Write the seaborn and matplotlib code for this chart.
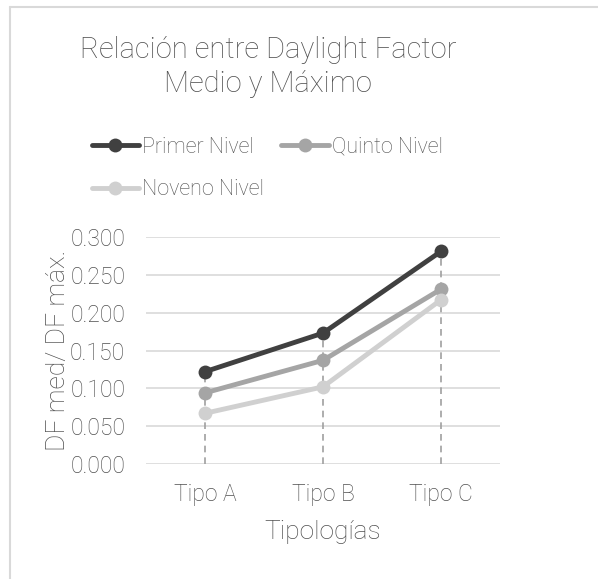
import matplotlib
matplotlib.use("Agg")
import matplotlib.pyplot as plt
from matplotlib.lines import Line2D
import seaborn as sns
import pandas as pd

categories = ["Tipo A", "Tipo B", "Tipo C"]
series_names = ["Primer Nivel", "Quinto Nivel", "Noveno Nivel"]
primer = [0.122, 0.173, 0.281]
quinto = [0.094, 0.137, 0.231]
noveno = [0.067, 0.102, 0.217]
yticks = [0.0, 0.05, 0.10, 0.15, 0.20, 0.25, 0.30]
colors = ["#404040", "#A5A5A5", "#D0D0D0"]

rows = []
for name, vals in zip(series_names, [primer, quinto, noveno]):
    for c, v in zip(categories, vals):
        rows.append({"Tipología": c, "Valor": v, "Serie": name})
df = pd.DataFrame(rows)

sns.set_style("white")
plt.rcParams["font.family"] = ["Roboto", "DejaVu Sans"]
txt = "#505050"

W, H = 598, 579
fig = plt.figure(figsize=(W / 100, H / 100), dpi=100)
ax = fig.add_axes([146 / W, 1 - 464 / H, (500 - 146) / W, (464 - 237) / H])

# drop lines
maxv = df.groupby("Tipología", sort=False)["Valor"].max()
ax.vlines(range(len(categories)), 0, [maxv[c] for c in categories],
          colors="#A0A0A0", linestyles=(0, (4, 3)), linewidth=1.2, zorder=1)

sns.lineplot(data=df, x="Tipología", y="Valor", hue="Serie", hue_order=series_names,
             palette=colors, marker="o", markersize=10, markeredgewidth=0,
             linewidth=3.5, ax=ax, legend=False, sort=False, zorder=3)
for l in ax.lines:
    l.set_clip_on(False)

ax.set_xlim(-0.5, 2.5)
ax.set_ylim(0, 0.3)
ax.set_yticks(yticks)
ax.set_yticklabels([f"{v:.3f}" for v in yticks])
ax.grid(axis="y", color="#D9D9D9", linewidth=1.2)
ax.set_axisbelow(True)
for s in ax.spines.values():
    s.set_visible(False)
ax.tick_params(axis="y", length=0, labelsize=16.5, labelcolor=txt, pad=15)
ax.tick_params(axis="x", length=0, labelsize=16.5, labelcolor=txt, pad=14)
for lab in ax.get_xticklabels() + ax.get_yticklabels():
    lab.set_fontweight("light")
ax.set_xlabel("Tipologías", fontsize=19, color=txt, fontweight="light", labelpad=10)
ax.set_ylabel("DF med/ DF máx.", fontsize=19, color=txt, fontweight="light", labelpad=0)

fig.text(268 / W, 1 - 67 / H, "Relación entre Daylight Factor\nMedio y Máximo",
         ha="center", va="center", fontsize=21, color=txt, fontweight="light",
         linespacing=1.25)

handles = [Line2D([], [], color=c, linewidth=3.5, marker="o", markersize=10,
                  markeredgewidth=0) for c in colors]
order = [0, 2, 1]
leg = fig.legend([handles[i] for i in order], [series_names[i] for i in order],
                 ncol=2, loc="upper left", bbox_to_anchor=(83 / W, 1 - 128 / H),
                 frameon=False, fontsize=15.5, handlelength=2.2, handletextpad=0.15,
                 columnspacing=0.8, labelspacing=1.0, borderaxespad=0)
for t in leg.get_texts():
    t.set_color(txt)
    t.set_fontweight("light")

fig.add_artist(Line2D([10 / W, 10 / W], [0, 1 - 7 / H], transform=fig.transFigure,
                      color="#D9D9D9", linewidth=1.5))
fig.add_artist(Line2D([10 / W, 1], [1 - 7 / H, 1 - 7 / H], transform=fig.transFigure,
                      color="#D9D9D9", linewidth=1.5))

fig.savefig("out.png", dpi=100, facecolor="white")
